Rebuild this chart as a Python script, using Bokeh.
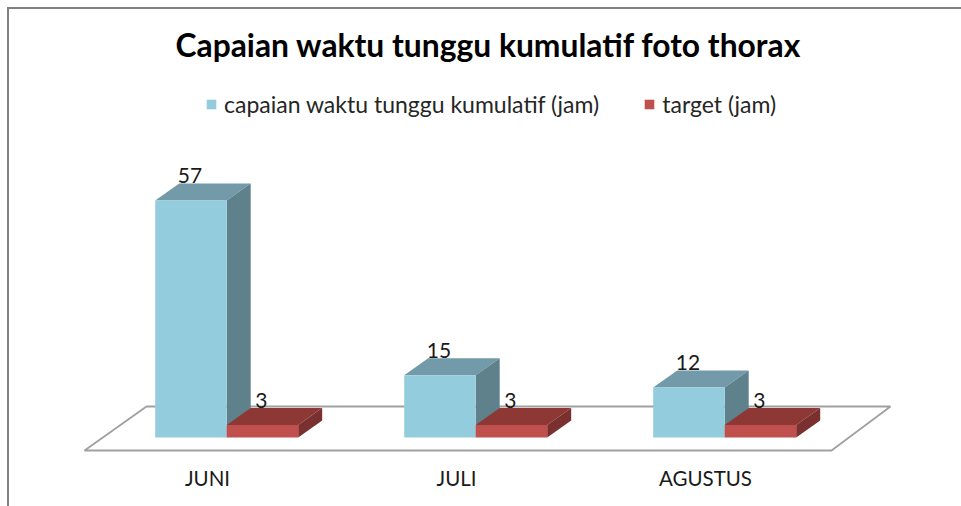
from bokeh.plotting import figure
from bokeh.models import (ColumnDataSource, Range1d, FixedTicker, Legend, LegendItem)
from bokeh.core.properties import value
from bokeh.embed import file_html
from bokeh.resources import INLINE

months = ["JUNI", "JULI", "AGUSTUS"]
capaian = [57, 15, 12]
target = [3, 3, 3]
title_text = "Capaian waktu tunggu kumulatif foto thorax"
series_names = ["capaian waktu tunggu kumulatif (jam)", "target (jam)"]

FONT = "Lato"
PX_X = 249.0      # pixels per category
PX_Y = 4.158      # pixels per unit
W, H = 961, 506
TOP, BOTTOM = 62, 46
X0_PAGE, Y0_PAGE = 207.0, 437.0   # pixel of category 0 / value 0

bar_w = 71.5 / PX_X
off = 19.2 / PX_X
dx = 24.0 / PX_X
dy = 17.0 / PX_Y

x_start = (0 - X0_PAGE) / PX_X
x_end = (W - X0_PAGE) / PX_X
y_start = (Y0_PAGE - (H - BOTTOM)) / PX_Y
y_end = (Y0_PAGE - TOP) / PX_Y

p = figure(width=W, height=H, output_backend="svg", toolbar_location=None,
           x_range=Range1d(x_start, x_end), y_range=Range1d(y_start, y_end),
           min_border_left=0, min_border_right=0, min_border_top=TOP, min_border_bottom=BOTTOM,
           title=title_text)
p.outline_line_color = None
p.border_fill_color = None
p.background_fill_color = None
p.grid.visible = False
p.yaxis.visible = False
p.styles = {"box-shadow": "inset 7px 7px 0 #ffffff, inset 9px 9px 0 #808080"}

p.title.align = "left"
p.title.offset = 175
p.title.text_font = FONT
p.title.text_font_style = "bold"
p.title.text_font_size = "31.8px"
p.title.text_color = "#000000"
p.title.standoff = -2

ax = p.xaxis[0]
ax.ticker = FixedTicker(ticks=list(range(len(months))))
ax.major_label_overrides = {i: m for i, m in enumerate(months)}
ax.axis_line_color = None
ax.major_tick_line_color = None
ax.minor_tick_line_color = None
ax.major_label_text_font = FONT
ax.major_label_text_font_size = "20.5px"
ax.major_label_text_color = "#1a1a1a"
ax.major_label_standoff = -1

# floor
fl_xf = [(84 - X0_PAGE) / PX_X, (831 - X0_PAGE) / PX_X]
fl_xb = [(146 - X0_PAGE) / PX_X, (890 - X0_PAGE) / PX_X]
fl_yf = (Y0_PAGE - 450) / PX_Y
fl_yb = (Y0_PAGE - 406) / PX_Y
p.patch([fl_xf[0], fl_xf[1], fl_xb[1], fl_xb[0]], [fl_yf, fl_yf, fl_yb, fl_yb],
        fill_color="#ffffff", line_color="#a0a0a0", line_width=1.8)


def draw_bar(left, val, front, top_c, side_c):
    right = left + bar_w
    p.patch([left, right, right + dx, left + dx], [val, val, val + dy, val + dy],
            fill_color=top_c, line_color=None)
    p.patch([right, right + dx, right + dx, right], [0, dy, val + dy, val],
            fill_color=side_c, line_color=None)
    return p.quad(left=[left], right=[right], bottom=[0], top=[val],
                  fill_color=front, line_color=None)


renderers = [None, None]
lab_x, lab_y, lab_t = [], [], []
for i in range(len(months)):
    l1 = i + off - bar_w
    l2 = i + off
    r1 = draw_bar(l1, capaian[i], "#93CDDD", "#729AA8", "#5E818B")
    r2 = draw_bar(l2, target[i], "#C0504D", "#8E3836", "#79302E")
    renderers = [r1, r2]
    lab_x += [l1 + bar_w / 2, l2 + bar_w / 2]
    lab_y += [capaian[i] + dy, target[i] + dy]
    lab_t += [str(capaian[i]), str(target[i])]

p.text(x="x", y="y", text="t", source=ColumnDataSource(dict(x=lab_x, y=lab_y, t=lab_t)),
       text_font=value(FONT), text_font_size="21px", text_color="#1a1a1a",
       text_align="center", text_baseline="alphabetic", y_offset=-8, x_offset=-1)

legend = Legend(items=[LegendItem(label=series_names[0], renderers=[renderers[0]]),
                       LegendItem(label=series_names[1], renderers=[renderers[1]])],
                orientation="horizontal", location=(205, 342),
                glyph_width=12, glyph_height=12, label_standoff=7, spacing=44,
                padding=0, margin=0, border_line_color=None, background_fill_color=None,
                label_text_font=FONT, label_text_font_size="23px", label_text_color="#262626",
                label_height=12)
p.add_layout(legend, "center")

open("out.html", "w").write(file_html(p, INLINE))
